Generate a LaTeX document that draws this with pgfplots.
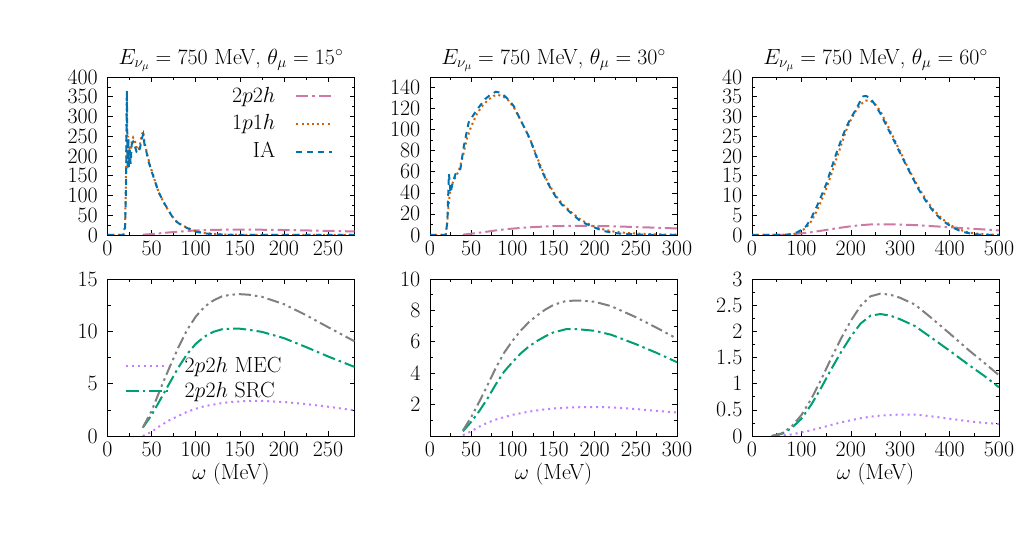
\RequirePackage{fix-cm}
\documentclass[border=0pt]{standalone}
\usepackage{fontspec}
\usepackage{pgfplots}
\pgfplotsset{compat=1.18}

\definecolor{cTwo}{HTML}{CC79A7}
\definecolor{cOne}{HTML}{D55E00}
\definecolor{cIA}{HTML}{0072B2}
\definecolor{cSRC}{HTML}{009E73}
\definecolor{cMEC}{HTML}{C080FF}
\definecolor{cTot}{HTML}{808080}

\pgfplotsset{
  panel/.style={
    scale only axis, width=247bp,
    tick align=inside, minor tick num=1,
    major tick length=5bp, minor tick length=3bp,
    axis line style={line width=0.7bp},
    every tick/.style={black, line width=0.6bp},
    yticklabel style={inner sep=0.5bp, xshift=-9bp},
    xticklabel style={inner sep=0.5bp, yshift=-6bp},
    title style={at={(0.5,1)}, anchor=base, yshift=7bp},
    clip mode=individual,
  },
  toprow/.style={panel, height=158bp, ymin=0},
  botrow/.style={panel, height=157bp, ymin=0, xlabel={$\omega$ (MeV)},
    xlabel style={yshift=2bp}},
  twoptwoh/.style={color=cTwo, line width=2bp, dash pattern=on 12bp off 4bp on 2.5bp off 4bp},
  onepone/.style={color=cOne, line width=2bp, dash pattern=on 2bp off 3.2bp},
  iaplot/.style={color=cIA, line width=2bp, dash pattern=on 6bp off 5bp},
  totplot/.style={color=cTot, line width=2bp, dash pattern=on 12bp off 4bp on 2.5bp off 4bp on 2.5bp off 4bp},
  srcplot/.style={color=cSRC, line width=2bp, dash pattern=on 13bp off 4bp on 2.5bp off 4bp},
  mecplot/.style={color=cMEC, line width=2bp, dash pattern=on 2bp off 4bp},
}

% 2p2h strengths (MEC, SRC and their sum) for each kinematics
\pgfplotstableread{
w    src   mec   tot
40   0.8   0.0   0.8
50   2.0   0.4   2.4
60   3.5   1.0   4.5
70   5.0   1.5   6.5
80   6.5   1.9   8.4
90   7.8   2.3   10.1
100  8.8   2.6   11.4
110  9.5   2.85  12.35
120  9.95  3.0   12.95
130  10.2  3.15  13.35
140  10.25 3.25  13.5
150  10.25 3.3   13.55
160  10.15 3.35  13.5
175  9.95  3.35  13.3
200  9.35  3.25  12.6
225  8.5   3.05  11.55
250  7.6   2.8   10.4
280  6.6   2.45  9.05
}\tabFifteen

\pgfplotstableread{
w    src   mec   tot
40   0.3   0.05  0.35
50   0.9   0.3   1.2
60   1.6   0.6   2.2
70   2.4   0.85  3.25
80   3.3   1.05  4.35
90   4.1   1.2   5.3
100  4.7   1.35  6.05
110  5.25  1.45  6.7
120  5.7   1.55  7.25
130  6.05  1.63  7.68
140  6.35  1.7   8.05
150  6.6   1.75  8.35
165  6.8   1.8   8.6
180  6.8   1.83  8.63
200  6.7   1.85  8.55
220  6.45  1.82  8.27
250  5.85  1.72  7.57
275  5.3   1.6   6.9
300  4.7   1.5   6.2
}\tabThirty

\pgfplotstableread{
w    src   mec   tot
40   0.0   0.0   0.0
60   0.04  0.01  0.05
80   0.15  0.03  0.18
100  0.33  0.07  0.4
120  0.6   0.11  0.71
140  0.92  0.16  1.08
160  1.27  0.21  1.48
180  1.6   0.26  1.86
200  1.9   0.3   2.2
220  2.15  0.34  2.49
240  2.3   0.37  2.67
260  2.33  0.39  2.72
280  2.3   0.4   2.7
300  2.23  0.41  2.64
330  2.1   0.41  2.51
360  1.9   0.38  2.28
400  1.63  0.33  1.96
440  1.35  0.28  1.63
470  1.15  0.25  1.4
500  0.93  0.23  1.16
}\tabSixty

\begin{document}
\fontsize{22}{26}\selectfont
\begin{tikzpicture}

% ---------- theta = 15 deg ----------
\begin{axis}[toprow, at={(107.5bp,310bp)}, anchor=south west,
  xmin=0, xmax=280, ymax=400, xtick={0,50,...,250}, ytick={0,50,...,400},
  title={$E_{\nu_\mu}=750$ MeV, $\theta_\mu=15^\circ$},
  legend plot pos=right, legend cell align=right,
  legend image code/.code={\path (0bp,0bp); \draw[#1] (18bp,0bp) -- (54bp,0bp);},
  legend style={draw=none, fill=none, at={(1,1)}, anchor=north east,
    xshift=-18bp, yshift=-6bp, row sep=5bp}]
\addplot[twoptwoh] table[x=w, y=tot] {\tabFifteen};
\addlegendentry{$2p2h$}
\addplot[onepone] table {
0 0
18 0
20 25
21 160
21.8 350
22.6 165
23.4 250
24.2 180
25 225
26 195
27.5 240
29 247
31 238
33 222
35 215
37 232
39 255
40.5 262
42 235
44 215
46 195
49 170
52 150
55 128
58 108
61.5 92
65 77
69 62
73 48
78 35
83 27
88 21
95 14
101 9
110 5
120 3
135 1
150 0.5
180 0
280 0
};
\addlegendentry{$1p1h$}
\addplot[iaplot] table {
0 0
18 0
20 20
21 120
22 365
22.7 175
23.5 245
24.3 170
25.2 215
26.2 180
27.5 230
29 236
31 225
33 210
35 207
37 222
39 245
40.5 255
42 228
44 212
46 190
49 168
52 148
55 128
58 108
61.5 93
65 78
69 63
73 48
78 34
83 26
88 20
95 13
101 8
110 4
120 2
135 0.5
150 0
280 0
};
\addlegendentry{IA}
\end{axis}

% ---------- theta = 30 deg ----------
\begin{axis}[toprow, at={(430bp,310bp)}, anchor=south west,
  xmin=0, xmax=300, ymax=150, xtick={0,50,...,300}, ytick={0,20,...,140},
  title={$E_{\nu_\mu}=750$ MeV, $\theta_\mu=30^\circ$}]
\addplot[twoptwoh] table[x=w, y=tot] {\tabThirty};
\addplot[onepone] table {
0 0
19 0
21 13
23 32
25 45
29 52
35 61
40 75
45 92
50 103
57 115
63 122
70 128
77 132
83 133
90 131
95 128
102 121
110 109
116 100
122 90
128 78
134 66
140 55
146 46
153 37
160 30
171 22
183 14.5
195 9.5
205 6.5
215 4.5
225 3
240 1.8
260 1
280 0.5
300 0.3
};
\addplot[iaplot] table {
0 0
19 0
21 12
23 58
25 40
27 48
31 58
37 63
41 84
47 107
52 113
57 119
62 124
67 129
73 133
80 136
86 135
92 131
97 127
102 122
110 109
116 100
122 90
128 77
134 64
140 54
146 45
153 36
160 29
171 21
183 13
195 8.6
205 5.5
211 3.8
221 2.2
231 1.3
250 0.5
270 0.2
300 0
};
\end{axis}

% ---------- theta = 60 deg ----------
\begin{axis}[toprow, at={(752bp,310bp)}, anchor=south west,
  xmin=0, xmax=500, ymax=40, xtick={0,100,...,500}, ytick={0,5,...,40},
  title={$E_{\nu_\mu}=750$ MeV, $\theta_\mu=60^\circ$}]
\addplot[twoptwoh] table[x=w, y=tot] {\tabSixty};
\addplot[onepone] table {
0 0
60 0
80 0.1
90 0.4
100 1
110 1.9
120 3.5
130 5.8
140 8.6
150 11.6
160 15.2
170 18.9
180 22.6
190 26.3
200 29.1
210 31.4
220 33.1
230 34
240 34
250 33
260 31.3
271 28.6
285 25
298 21.6
312 18
325 14.8
338 11.8
352 9
365 6.7
379 4.8
393 3.3
406 2.2
420 1.4
433 0.8
450 0.4
470 0.2
500 0
};
\addplot[iaplot] table {
0 0
60 0
80 0.2
90 0.6
100 1.3
110 2.3
120 4.3
130 6.9
140 9.8
150 12.8
160 16.6
170 20.4
180 23.9
190 27.1
200 29.6
210 31.7
218 33.6
225 35.1
231 35.2
240 34.6
251 32.6
261 30.5
271 28
285 24.5
298 21.2
312 17.7
325 14.5
338 11.4
352 8.6
365 6.3
379 4.4
393 3
406 1.9
420 1.1
433 0.6
450 0.2
470 0
500 0
};
\end{axis}

% ---------- 2p2h decomposition ----------
\begin{axis}[botrow, at={(107.5bp,109bp)}, anchor=south west,
  xmin=0, xmax=280, ymax=15, xtick={0,50,...,250}, ytick={0,5,10,15},
  legend cell align=left,
  legend image code/.code={\draw[#1] (0bp,0bp) -- (42bp,0bp); \path (56bp,0bp);},
  legend style={draw=none, fill=none, at={(0,1)}, anchor=north west,
    xshift=14bp, yshift=-74bp, row sep=2bp}]
\addplot[mecplot] table[x=w, y=mec] {\tabFifteen};
\addlegendentry{$2p2h$ MEC}
\addplot[srcplot] table[x=w, y=src] {\tabFifteen};
\addlegendentry{$2p2h$ SRC}
\addplot[totplot, forget plot] table[x=w, y=tot] {\tabFifteen};
\end{axis}

\begin{axis}[botrow, at={(430bp,109bp)}, anchor=south west,
  xmin=0, xmax=300, ymax=10, xtick={0,50,...,300}, ytick={2,4,...,10},
  minor ytick={1,3,...,9}, minor tick num=0, minor xtick={25,75,...,275}]
\addplot[mecplot] table[x=w, y=mec] {\tabThirty};
\addplot[srcplot] table[x=w, y=src] {\tabThirty};
\addplot[totplot] table[x=w, y=tot] {\tabThirty};
\end{axis}

\begin{axis}[botrow, at={(752bp,109bp)}, anchor=south west,
  xmin=0, xmax=500, ymax=3, xtick={0,100,...,500}, ytick={0,0.5,...,3}]
\addplot[mecplot] table[x=w, y=mec] {\tabSixty};
\addplot[srcplot] table[x=w, y=src] {\tabSixty};
\addplot[totplot] table[x=w, y=tot] {\tabSixty};
\end{axis}

\pgfresetboundingbox
\path[use as bounding box] (0,0) rectangle (1025bp,545bp);
\end{tikzpicture}
\end{document}
